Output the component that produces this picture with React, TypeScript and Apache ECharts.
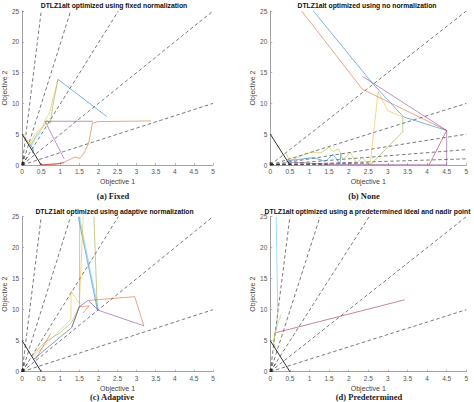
import React, { useEffect, useRef } from "react";
import * as echarts from "echarts";

type Pt = [number, number];

// ---------- data ----------
const xTicks = [0, 0.5, 1, 1.5, 2, 2.5, 3, 3.5, 4, 4.5, 5];
const yTicks = [0, 5, 10, 15, 20, 25];

const titles = [
  "DTLZ1alt optimized using fixed normalization",
  "DTLZ1alt optimized using no normalization",
  "DTLZ1alt optimized using adaptive normalization",
  "DTLZ1alt optimized using a predetermined ideal and nadir point",
];
const captions = ["(a) Fixed", "(b) None", "(c) Adaptive", "(d) Predetermined"];

const paretoFront: Pt[] = [[0, 5], [0.5, 0]];

// reference directions (end points of dashed rays from origin)
const refScaled: Pt[] = [[0.5, 25], [1.27, 25], [2.52, 25], [5, 25], [5, 10]];
const refScaledShort: Pt[] = [[0.06, 1.8], [0.14, 1.3]];
const refPlain: Pt[] = [[5, 25], [5, 10], [5, 5], [5, 2.5], [5, 1]];
const refPlainShort: Pt[] = [[2.5, 0.3], [1.5, 0.08]];

// (a) fixed
const fixedBlue: Pt[] = [[0.94, 13.9], [2.22, 7.85]];
const fixedBlue2: Pt[] = [[0.2, 3.4], [0.3, 2.5], [0.27, 1.9]];
const fixedYellow: Pt[] = [[0.0, 5.2], [0.2, 3.4], [0.3, 4.6], [0.45, 5.8], [0.55, 6.3], [0.6, 7.3], [0.72, 8.5], [0.82, 11], [0.94, 13.9]];
const fixedGreen: Pt[] = [[0.05, 4.6], [0.22, 3.2], [0.35, 4.6], [0.5, 5.8], [0.6, 6.6], [0.65, 7.2], [0.74, 6.8], [0.8, 9.5], [0.94, 13.9]];
const fixedCyan: Pt[] = [[0.22, 2.8], [0.35, 4.4], [0.5, 5.4]];
const fixedPurple: Pt[] = [[1.85, 7.1], [0.6, 7.1], [1.1, 1.0]];
const fixedOrange: Pt[] = [[0.5, 0.05], [0.9, 0.1], [1.12, 0.5], [1.3, 1.05], [1.4, 1.3], [1.5, 1.05], [1.62, 1.9], [1.74, 3.5], [1.8, 5.4], [1.84, 6.8], [2.0, 7.05], [3.38, 7.15]];
const fixedDarkRed: Pt[] = [[0.45, 0.15], [0.55, 0.02], [1.1, 0.35]];

// (b) none
const noneBlue: Pt[] = [[1.1, 25], [2.6, 13.3], [3.4, 7.8], [4.5, 5.6]];
const noneOrange: Pt[] = [[0.8, 25], [2.35, 12.3], [4.5, 5.6]];
const nonePurple: Pt[] = [[2.35, 14.4], [4.5, 5.6], [4.5, 0]];
const noneBrown: Pt[] = [[4.5, 5.6], [4.05, 0]];
const noneYellow: Pt[] = [[2.55, 0.1], [2.75, 11.9], [3.0, 8.8], [3.38, 7.8]];
const noneGreen: Pt[] = [[3.38, 7.8], [3.38, 5.4], [2.55, 0]];
const noneOlive: Pt[] = [[0.4, 1.9], [0.5, 0.7], [0.8, 1.5], [1.0, 2.0], [1.3, 2.0], [1.5, 2.9], [1.6, 2.2], [1.75, 2.6], [1.85, 0.9], [2.05, 2.0], [2.2, 0.2], [2.35, 1.3], [2.45, 0.4], [2.55, 0.1]];
const noneBlue2: Pt[] = [[0.45, 0.7], [1.1, 1.2], [1.4, 0.6], [1.6, 1.7], [1.78, 0.2], [1.8, 1.9]];
const noneDark: Pt[] = [[0.4, 0.5], [1.5, 0.1], [4.5, 0.02]];

// (c) adaptive
const adaptCyan: Pt[] = [[1.5, 25], [2.0, 9.9]];
const adaptBlue: Pt[] = [[1.47, 25], [1.97, 10.0]];
const adaptOlive: Pt[] = [[1.88, 25], [1.97, 9.9]];
const adaptGreen: Pt[] = [[0.25, 2.5], [0.6, 4.8], [1.0, 6.3], [1.3, 8.0], [1.5, 10.5], [1.51, 25]];
const adaptYellow: Pt[] = [[0.25, 2.2], [0.8, 5.5], [1.28, 8.5], [1.28, 13.0], [1.5, 11.0], [1.6, 25]];
const adaptOrange: Pt[] = [[1.3, 7.2], [1.5, 10.5], [1.75, 10.6], [1.6, 9.5]];
const adaptOrange2: Pt[] = [[1.75, 11.5], [2.95, 12.1], [3.19, 7.4]];
const adaptOrange3: Pt[] = [[0.35, 2.0], [0.75, 6.2]];
const adaptPurple: Pt[] = [[2.0, 9.9], [3.19, 7.4]];
const adaptIndigo: Pt[] = [[0.3, 2.0], [1.0, 5.6], [1.3, 7.1], [1.5, 10.5], [1.73, 11.5], [2.0, 9.9]];

// (d) predetermined
const preBlue: Pt[] = [[0.15, 25], [0.19, 9.4], [0.15, 6.5]];
const preYellow: Pt[] = [[0.27, 9.2], [0.13, 6.5], [0.1, 5.0]];
const preRed: Pt[] = [[0.15, 6.3], [3.43, 11.6]];
const preGreen: Pt[] = [[0.13, 6.5], [0.08, 4.8], [0.12, 4.0]];

const C = {
  blue: "#0072BD",
  orange: "#D95319",
  yellow: "#EDB120",
  purple: "#7E2F8E",
  green: "#77AC30",
  cyan: "#4DBEEE",
  red: "#A2142F",
};

// ---------- layout ----------
const grids = [
  { left: 18.3, top: 11, width: 194.7, height: 154 },
  { left: 270.3, top: 11, width: 196, height: 154 },
  { left: 18.3, top: 216.7, width: 194.7, height: 155 },
  { left: 270.3, top: 216.7, width: 196, height: 155 },
];
const titlePos: Pt[] = [[114, 5.5], [367, 5.5], [114.5, 211.5], [367.5, 211.5]];
const captionPos: Pt[] = [[113, 196], [364, 196], [112, 397], [369, 397]];

const FONT = "'Liberation Sans', Arial, Helvetica, sans-serif";

export default function App() {
  const ref = useRef<HTMLDivElement>(null);
  useEffect(() => {
    if (!ref.current) return;
    const chart = echarts.init(ref.current, undefined, { renderer: "svg" });

    const series: any[] = [];
    const line = (g: number, data: Pt[], color: string, extra: any = {}) => {
      series.push({
        type: "line",
        xAxisIndex: g,
        yAxisIndex: g,
        data,
        showSymbol: false,
        symbol: "none",
        clip: true,
        silent: true,
        lineStyle: { color, width: 0.7, opacity: 0.75, ...(extra.lineStyle || {}) },
        z: extra.z ?? 3,
      });
    };
    const dashed = (g: number, ends: Pt[]) => {
      ends.forEach((e) =>
        line(g, [[0, 0], e], "#2b2b2b", { lineStyle: { type: [3.5, 2.5], width: 0.7, opacity: 0.9 }, z: 2 })
      );
    };

    // reference rays
    [0, 2, 3].forEach((g) => {
      dashed(g, refScaled);
      dashed(g, refScaledShort);
    });
    dashed(1, refPlain);
    dashed(1, refPlainShort);

    // (a)
    line(0, fixedBlue, C.blue);
    line(0, fixedBlue2, C.blue);
    line(0, fixedYellow, C.yellow);
    line(0, fixedGreen, C.green);
    line(0, fixedCyan, C.cyan);
    line(0, fixedPurple, C.purple);
    line(0, fixedOrange, C.orange);
    line(0, fixedDarkRed, C.red);

    // (b)
    line(1, noneBlue, C.blue);
    line(1, noneOrange, C.orange);
    line(1, nonePurple, C.purple);
    line(1, noneBrown, C.red);
    line(1, noneYellow, C.yellow);
    line(1, noneGreen, C.green);
    line(1, noneOlive, "#a8b820");
    line(1, noneBlue2, C.blue);
    line(1, noneDark, C.purple);

    // (c)
    line(2, adaptCyan, C.cyan);
    line(2, adaptBlue, C.blue);
    line(2, adaptOlive, "#8f9a20");
    line(2, adaptGreen, C.green);
    line(2, adaptYellow, C.yellow);
    line(2, adaptOrange, C.orange);
    line(2, adaptOrange2, C.orange);
    line(2, adaptOrange3, C.orange);
    line(2, adaptPurple, C.purple);
    line(2, adaptIndigo, "#3a3aa0");

    // (d)
    line(3, preBlue, C.cyan);
    line(3, preYellow, C.yellow);
    line(3, preRed, C.red);
    line(3, preGreen, C.green);

    // Pareto front + origin marker
    [0, 1, 2, 3].forEach((g) => {
      line(g, paretoFront, "#1a1a1a", { lineStyle: { width: 0.9, opacity: 1 }, z: 4 });
      series.push({
        type: "scatter",
        xAxisIndex: g,
        yAxisIndex: g,
        data: [[0.02, 0.2]],
        symbol: "rect",
        symbolSize: 3,
        itemStyle: { color: "#222" },
        silent: true,
        z: 5,
      });
    });

    const axisCommon = {
      axisLine: { show: true, onZero: false, lineStyle: { color: "#8a8a8a", width: 0.8 } },
      axisTick: { show: true, inside: true, length: 2, lineStyle: { color: "#8a8a8a", width: 0.6 } },
      splitLine: { show: false },
      nameTextStyle: { fontFamily: FONT, fontSize: 7, color: "#444" },
    };

    const xAxis = grids.map((_, i) => ({
      ...axisCommon,
      type: "value",
      gridIndex: i,
      min: xTicks[0],
      max: xTicks[xTicks.length - 1],
      interval: xTicks[1] - xTicks[0],
      name: "Objective 1",
      nameLocation: "middle",
      nameGap: 13,
      axisLabel: { fontFamily: FONT, fontSize: 6.5, color: "#555", margin: 3 },
    }));
    const yAxis = grids.map((_, i) => ({
      ...axisCommon,
      type: "value",
      gridIndex: i,
      min: yTicks[0],
      max: yTicks[yTicks.length - 1],
      interval: yTicks[1] - yTicks[0],
      name: "Objective 2",
      nameLocation: "middle",
      nameGap: 10,
      axisLabel: { fontFamily: FONT, fontSize: 6.5, color: "#555", margin: 3 },
    }));

    const graphic: any[] = [];
    titles.forEach((t, i) => {
      graphic.push({
        type: "text",
        x: titlePos[i][0],
        y: titlePos[i][1],
        silent: true,
        z: 10,
        style: {
          text: t,
          align: "center",
          verticalAlign: "middle",
          font: `bold 6.8px ${FONT}`,
          fill: "#111",
        },
      });
    });
    captions.forEach((t, i) => {
      graphic.push({
        type: "text",
        x: captionPos[i][0],
        y: captionPos[i][1],
        silent: true,
        style: {
          text: t,
          align: "center",
          verticalAlign: "middle",
          font: `bold 8.5px 'Liberation Serif', 'Times New Roman', serif`,
          fill: "#222",
        },
      });
    });

    chart.setOption({
      animation: false,
      backgroundColor: "#fff",
      grid: grids,
      xAxis,
      yAxis,
      series,
      graphic,
    });
    return () => chart.dispose();
  }, []);

  return (
    <div
      ref={ref}
      style={{ position: "absolute", left: 0, top: 0, width: 474, height: 402 }}
    />
  );
}
